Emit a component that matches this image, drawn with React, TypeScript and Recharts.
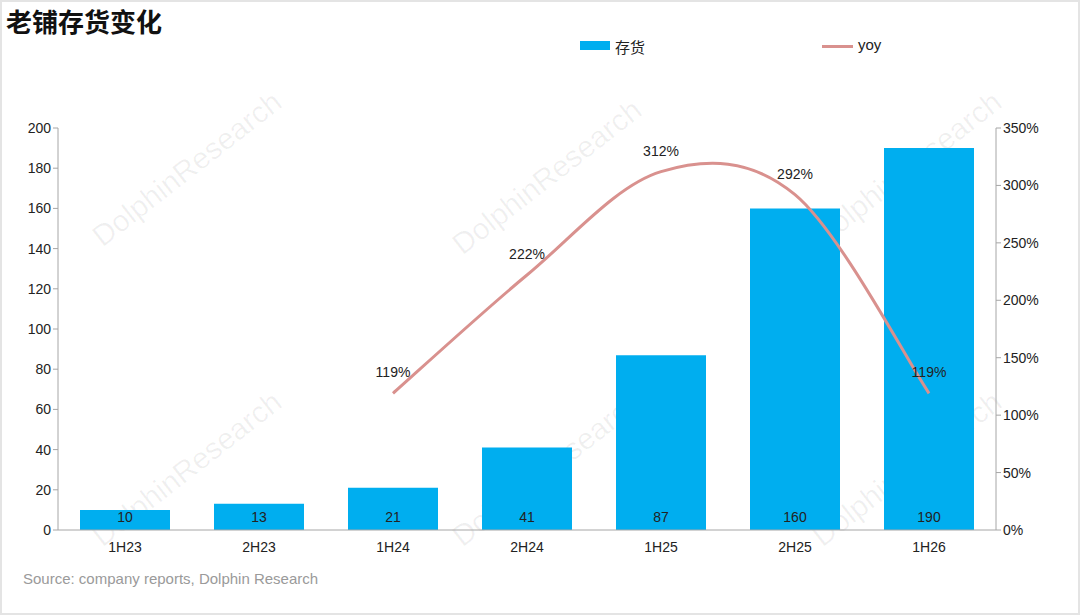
import React from 'react';
import {
    ComposedChart,
    Bar,
    Line,
    XAxis,
    YAxis,
    Legend,
    LabelList
} from 'recharts';

const periods = ['1H23', '2H23', '1H24', '2H24', '1H25', '2H25', '1H26'];
const inventory = [10, 13, 21, 41, 87, 160, 190];
const yoy = [null, null, 119, 222, 312, 292, 119];
const leftTicks = [0, 20, 40, 60, 80, 100, 120, 140, 160, 180, 200];
const rightTicks = [0, 50, 100, 150, 200, 250, 300, 350];

const BAR_COLOR = '#00aeef';
const LINE_COLOR = '#d9918e';
const AXIS_COLOR = '#a6a6a6';
const FONT = '"Liberation Sans", Arial, sans-serif';

const data = periods.map((name, i) => ({
    name,
    inventory: inventory[i],
    yoy: yoy[i]
}));

// Excel-style smoothed line (Catmull-Rom, 1/6 control points)
const excelSmooth = (context: any) => {
    let pts: number[][] = [];
    return {
        areaStart() {},
        areaEnd() {},
        lineStart() { pts = []; },
        point(x: number, y: number) { pts.push([+x, +y]); },
        lineEnd() {
            const n = pts.length;
            if (!n) return;
            context.moveTo(pts[0][0], pts[0][1]);
            for (let i = 0; i < n - 1; i++) {
                const p0 = pts[Math.max(i - 1, 0)];
                const p1 = pts[i];
                const p2 = pts[i + 1];
                const p3 = pts[Math.min(i + 2, n - 1)];
                context.bezierCurveTo(
                    p1[0] + (p2[0] - p0[0]) / 6, p1[1] + (p2[1] - p0[1]) / 6,
                    p2[0] - (p3[0] - p1[0]) / 6, p2[1] - (p3[1] - p1[1]) / 6,
                    p2[0], p2[1]
                );
            }
        }
    };
};

// faint watermark positions (decoration only)
const marks = [
    { x: 185, y: 170 }, { x: 545, y: 178 }, { x: 905, y: 170 },
    { x: 185, y: 470 }, { x: 545, y: 470 }, { x: 905, y: 470 }
];

const LegendContent = () => (
    <div style={{ position: 'relative', height: 20, fontFamily: FONT, fontSize: 15, color: '#222' }}>
        <div style={{ position: 'absolute', left: 580, top: 5, width: 30, height: 9, background: BAR_COLOR }} />
        <span style={{ position: 'absolute', left: 615, top: 0, fontFamily: '"Noto Sans CJK SC", sans-serif' }}>存货</span>
        <div style={{ position: 'absolute', left: 822, top: 9, width: 31, height: 3, background: LINE_COLOR }} />
        <span style={{ position: 'absolute', left: 858, top: 0 }}>yoy</span>
    </div>
);

export default function App() {
    return (
        <div style={{
            position: 'absolute', left: 0, top: 0, width: 1080, height: 615,
            boxSizing: 'border-box', border: '2px solid #e4e4e4', background: '#fff', overflow: 'hidden'
        }}>
            {marks.map((m, i) => (
                <div key={i} style={{
                    position: 'absolute', left: m.x - 130, top: m.y - 20, width: 260, textAlign: 'center',
                    transform: 'rotate(-38deg)', fontFamily: FONT, fontSize: 30, color: 'rgba(0,0,0,0.06)'
                }}>DolphinResearch</div>
            ))}
            <div style={{
                position: 'absolute', left: 4, top: 0, fontFamily: '"Noto Sans CJK SC", sans-serif',
                fontWeight: 700, fontSize: 26, color: '#111'
            }}>老铺存货变化</div>
            <div style={{ position: 'absolute', left: -2, top: -2 }}>
                <ComposedChart
                    width={1080}
                    height={615}
                    data={data}
                    margin={{ top: 108, right: 0, left: 0, bottom: 55 }}
                >
                    <XAxis
                        dataKey="name"
                        stroke={AXIS_COLOR}
                        tickLine={false}
                        tick={{ fill: '#222', fontSize: 14, fontFamily: FONT }}
                        tickMargin={6}
                        height={30}
                    />
                    <YAxis
                        yAxisId="left"
                        domain={[0, 200]}
                        ticks={leftTicks}
                        interval={0}
                        width={58}
                        stroke={AXIS_COLOR}
                        tickSize={5}
                        tick={{ fill: '#222', fontSize: 14, fontFamily: FONT }}
                    />
                    <YAxis
                        yAxisId="right"
                        orientation="right"
                        domain={[0, 350]}
                        ticks={rightTicks}
                        interval={0}
                        width={84}
                        stroke={AXIS_COLOR}
                        tickSize={5}
                        tickFormatter={(v) => `${v}%`}
                        tick={{ fill: '#222', fontSize: 14, fontFamily: FONT }}
                    />
                    <Legend verticalAlign="top" content={<LegendContent />} wrapperStyle={{ top: 36, left: 0, width: 1080 }} />
                    <Bar yAxisId="left" dataKey="inventory" fill={BAR_COLOR} barSize={90} isAnimationActive={false}>
                        <LabelList
                            dataKey="inventory"
                            position="insideBottom"
                            offset={8}
                            style={{ fill: '#222', fontSize: 14, fontFamily: FONT }}
                        />
                    </Bar>
                    <Line
                        yAxisId="right"
                        dataKey="yoy"
                        type={excelSmooth as any}
                        stroke={LINE_COLOR}
                        strokeWidth={3}
                        dot={false}
                        activeDot={false}
                        isAnimationActive={false}
                    >
                        <LabelList
                            dataKey="yoy"
                            position="top"
                            offset={16}
                            formatter={(v) => (v == null ? '' : `${v}%`)}
                            style={{ fill: '#222', fontSize: 14, fontFamily: FONT }}
                        />
                    </Line>
                </ComposedChart>
            </div>
            <div style={{
                position: 'absolute', left: 21, top: 568, fontFamily: FONT, fontSize: 15, color: '#9a9a9a'
            }}>Source: company reports, Dolphin Research</div>
        </div>
    );
}
